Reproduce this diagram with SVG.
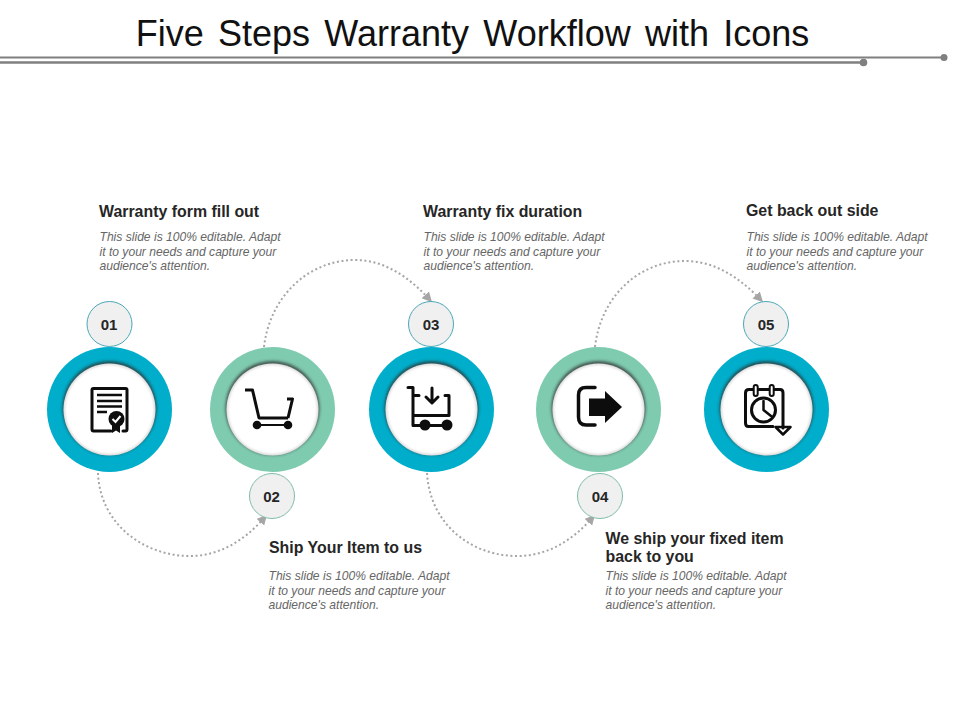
<svg xmlns="http://www.w3.org/2000/svg" width="960" height="720" viewBox="0 0 960 720">
<style>
text{font-family:"Liberation Sans",Arial,sans-serif}
.title{font-size:36px;fill:#111;text-anchor:middle}
.head{font-size:15.9px;font-weight:bold;fill:#262626}
.body{font-size:12.1px;font-style:italic;fill:#666}
.num{font-size:15px;font-weight:bold;fill:#262626;text-anchor:middle}
.badge{fill:#f0f0f0;stroke-width:1}
.link{fill:none;stroke:#a6a6a6;stroke-width:2;stroke-dasharray:2 2.6}
.rule{stroke:#7f7f7f;fill:none}
.ico{fill:none;stroke:#0d0d0d;stroke-width:3;stroke-linecap:round;stroke-linejoin:round}
.fil{fill:#0d0d0d;stroke:none}
</style>
<defs>
<filter id="sh" x="-30%" y="-30%" width="160%" height="160%"><feGaussianBlur stdDeviation="1.8"/></filter>
<filter id="sf" x="-30%" y="-30%" width="160%" height="160%"><feGaussianBlur stdDeviation="1.2"/></filter>
<marker id="ah" markerWidth="11" markerHeight="11" refX="7" refY="5" orient="auto" markerUnits="userSpaceOnUse"><path d="M0 0L10 5L0 10Z" fill="#a6a6a6"/></marker>
<g id="core"><circle cx="0" cy="-1.500" r="47" fill="#2e2e2e" fill-opacity=".75" filter="url(#sh)"/><circle r="46" fill="#dcdcdc"/><circle r="44.500" fill="#fff" filter="url(#sf)"/></g>
</defs>
<text class="title" x="472.500" y="46" word-spacing="4.300">Five Steps Warranty Workflow with Icons</text>
<g id="rules">
<path class="rule" stroke-width="2" d="M0 57.500H943"/><circle cx="944" cy="57.500" r="3.500" fill="#7f7f7f"/>
<path class="rule" stroke-width="2.500" d="M0 62.500H863"/><circle cx="863.500" cy="62.500" r="3.800" fill="#7f7f7f"/>
</g>
<g id="connectors">
<path class="link" marker-end="url(#ah)" d="M98 473C100 525 145 556 190 556C220 556 245 540 265 517"/>
<path class="link" marker-end="url(#ah)" d="M264 347C270 295 310 260 355 260C385 260 410 278 430 300"/>
<path class="link" marker-end="url(#ah)" d="M427 473C430 525 472 556 517 556C548 556 573 540 593 517"/>
<path class="link" marker-end="url(#ah)" d="M595 347C601 295 640 261 685 261C715 261 740 278 761 300"/>
</g>
<g id="node1">
<circle cx="109.500" cy="409.500" r="62.500" fill="#00aecb"/><use href="#core" x="109.500" y="409.500"/>
<circle class="badge" cx="109.500" cy="324" r="22.500" stroke="#4aa8b8"/><text class="num" x="109" y="330">01</text>
<path class="ico" d="M111 431H93.500Q92 431 92 429V390Q92 388.500 93.500 388.500H125.500Q127 388.500 127 390V429Q127 431 125.500 431H123"/>
<path class="ico" d="M97 395H122M97 401H122M97 406.500H122M97 412H107" style="stroke-width:2.500;stroke-linecap:butt"/>
<path class="fil" d="M112 424V433L116 430.500L120 433V424Z"/>
<circle class="fil" cx="116.500" cy="419" r="8"/>
<path d="M112.500 419L115.500 422L120.500 416" fill="none" stroke="#fff" stroke-width="2"/>
</g>
<g id="node2">
<circle cx="272.500" cy="409.500" r="62.500" fill="#7fcbb0"/><use href="#core" x="272.500" y="409.500"/>
<circle class="badge" cx="272" cy="496" r="22.500" stroke="#7fbfa8"/><text class="num" x="271.500" y="501.500">02</text>
<path class="ico" style="stroke-width:3;stroke-linecap:butt" d="M245 390H252.500L259 418H288M288 418L292.500 399H287"/>
<path class="ico" style="stroke-width:2;stroke-linecap:butt" d="M257 425H288"/>
<circle class="fil" cx="257" cy="425" r="4.300"/><circle class="fil" cx="288" cy="425" r="4.300"/>
</g>
<g id="node3">
<circle cx="431.500" cy="409.500" r="62.500" fill="#00aecb"/><use href="#core" x="431.500" y="409.500"/>
<circle class="badge" cx="431" cy="324" r="22.500" stroke="#4aa8b8"/><text class="num" x="431" y="330">03</text>
<path class="ico" d="M408 387.500H413V425.500H445M413 415.500H449V395.500H445M413 395.500H419"/>
<path class="ico" d="M432 388V402M426 397L432 403L438 397"/>
<circle class="fil" cx="425" cy="425" r="5.500"/><circle class="fil" cx="447" cy="425" r="5.500"/>
</g>
<g id="node4">
<circle cx="598.500" cy="409.500" r="62.500" fill="#7fcbb0"/><use href="#core" x="598.500" y="409.500"/>
<circle class="badge" cx="600" cy="496" r="22.500" stroke="#7fbfa8"/><text class="num" x="600" y="501.500">04</text>
<path class="ico" style="stroke-width:3.500" d="M595 387.500H586Q578.500 387.500 578.500 395V417Q578.500 425 586 425H595"/>
<path class="fil" d="M589 398.500H605V391L622 407L605 423V416H589Z"/>
</g>
<g id="node5">
<circle cx="766.500" cy="409.500" r="62.500" fill="#00aecb"/><use href="#core" x="766.500" y="409.500"/>
<circle class="badge" cx="766" cy="324" r="22.500" stroke="#4aa8b8"/><text class="num" x="766" y="330">05</text>
<path class="ico" d="M773 426.500H748.500Q745.500 426.500 745.500 423V393Q745.500 389.500 749 389.500H780Q783 389.500 783 393V428"/>
<rect x="753.700" y="385" width="4" height="11" rx="2" fill="#fff" stroke="#0d0d0d" stroke-width="2"/>
<rect x="769.700" y="385" width="4" height="11" rx="2" fill="#fff" stroke="#0d0d0d" stroke-width="2"/>
<circle class="ico" cx="763.500" cy="410" r="12"/>
<path class="ico" style="stroke-width:2.500" d="M763.500 401V410L771 416"/>
<path class="ico" style="stroke-width:2.500" d="M775.500 427H790.500L783 434.500Z"/>
</g>
<g id="labels">
<text class="head" x="99" y="216.500">Warranty form fill out</text>
<text class="body" x="99.500" y="241">This slide is 100% editable. Adapt</text>
<text class="body" x="99.500" y="255.500">it to your needs and capture your</text>
<text class="body" x="99.500" y="270">audience's attention.</text>
<text class="head" x="423" y="216.500">Warranty fix duration</text>
<text class="body" x="423.500" y="241">This slide is 100% editable. Adapt</text>
<text class="body" x="423.500" y="255.500">it to your needs and capture your</text>
<text class="body" x="423.500" y="270">audience's attention.</text>
<text class="head" x="746" y="215.500">Get back out side</text>
<text class="body" x="746.500" y="241">This slide is 100% editable. Adapt</text>
<text class="body" x="746.500" y="255.500">it to your needs and capture your</text>
<text class="body" x="746.500" y="270">audience's attention.</text>
<text class="head" x="269" y="552.500">Ship Your Item to us</text>
<text class="body" x="268.500" y="580">This slide is 100% editable. Adapt</text>
<text class="body" x="268.500" y="594.500">it to your needs and capture your</text>
<text class="body" x="268.500" y="609">audience's attention.</text>
<text class="head" x="605.500" y="543.500">We ship your fixed item</text>
<text class="head" x="605.500" y="562">back to you</text>
<text class="body" x="605.500" y="580">This slide is 100% editable. Adapt</text>
<text class="body" x="605.500" y="594.500">it to your needs and capture your</text>
<text class="body" x="605.500" y="609">audience's attention.</text>
</g>
</svg>
